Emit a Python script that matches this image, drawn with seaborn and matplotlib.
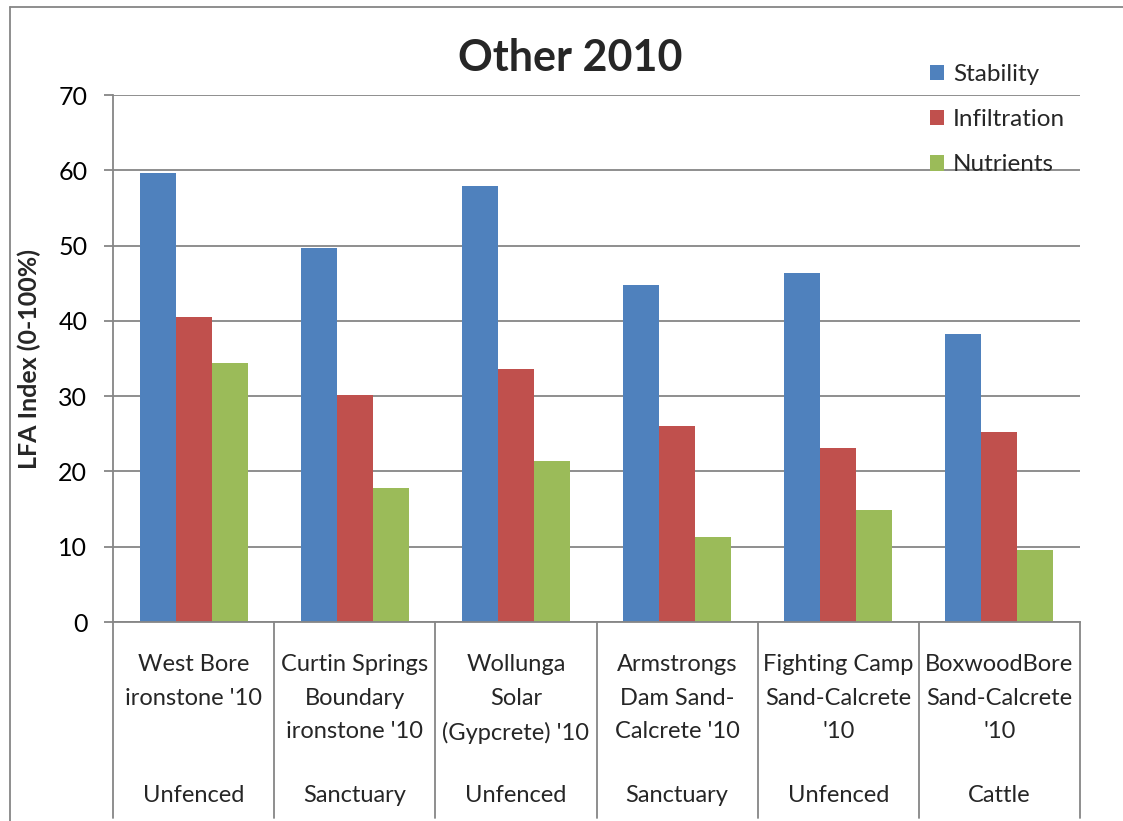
import matplotlib
matplotlib.use("Agg")
import matplotlib.pyplot as plt
import seaborn as sns
import pandas as pd
from matplotlib.lines import Line2D
from matplotlib.patches import Patch

# Site names (first category level) and management (second level)
sites = [
    "West Bore\nironstone '10",
    "Curtin Springs\nBoundary\nironstone '10",
    "Wollunga\nSolar\n(Gypcrete) '10",
    "Armstrongs\nDam Sand-\nCalcrete '10",
    "Fighting Camp\nSand-Calcrete\n'10",
    "BoxwoodBore\nSand-Calcrete\n'10",
]
management = ["Unfenced", "Sanctuary", "Unfenced", "Sanctuary", "Unfenced", "Cattle"]

stability = [59.6, 49.7, 57.9, 44.8, 46.4, 38.3]
infiltration = [40.5, 30.2, 33.6, 26.1, 23.1, 25.2]
nutrients = [34.4, 17.8, 21.4, 11.3, 14.9, 9.6]

series_names = ["Stability", "Infiltration", "Nutrients"]
series_colors = ["#4F81BD", "#C0504D", "#9BBB59"]

yticks = [0, 10, 20, 30, 40, 50, 60, 70]

df = pd.DataFrame({
    "site": sites * 3,
    "index": stability + infiltration + nutrients,
    "indicator": [n for n in series_names for _ in sites],
})

sns.set_theme(style="white")
plt.rcParams["font.family"] = ["Lato", "DejaVu Sans"]

W, H = 1123, 821
fig = plt.figure(figsize=(W / 100, H / 100), dpi=100)
# plot area in pixel coordinates
px_l, px_r, px_t, px_b = 113, 1080, 95, 622
ax = fig.add_axes([px_l / W, 1 - px_b / H, (px_r - px_l) / W, (px_b - px_t) / H])

sns.barplot(data=df, x="site", y="index", hue="indicator",
            hue_order=series_names, palette=series_colors,
            order=sites, width=0.67, gap=0, saturation=1,
            errorbar=None, ax=ax, linewidth=0, legend=False)

grid_c = "#868686"
txt_fs = 17
ax.set_ylim(0, 70)
ax.set_xlim(-0.5, len(sites) - 0.5)
ax.set_yticks(yticks)
ax.set_yticklabels([str(v) for v in yticks], fontsize=18, color="black")
ax.yaxis.grid(True, color=grid_c, linewidth=1.3)
ax.set_axisbelow(True)
ax.tick_params(axis="y", direction="out", length=6.5, width=1.3, color=grid_c,
               left=True, pad=12)
ax.set_xticks([])
ax.set_xlabel("")
ax.set_ylabel("LFA Index (0-100%)", fontsize=18, fontweight="bold", labelpad=12)
for side in ["top", "right"]:
    ax.spines[side].set_visible(False)
ax.spines["left"].set_color(grid_c)
ax.spines["left"].set_linewidth(1.3)
ax.spines["bottom"].set_color(grid_c)
ax.spines["bottom"].set_linewidth(1.3)

# multi-level category axis below the plot area
ax_h = px_b - px_t
def ay(py):
    return (px_b - py) / ax_h

trans = ax.get_xaxis_transform()
for xb in [i - 0.5 for i in range(len(sites) + 1)]:
    ax.add_line(Line2D([xb, xb], [0, ay(818)], transform=trans, color=grid_c,
                       linewidth=1.3, clip_on=False))
for i, (s, m) in enumerate(zip(sites, management)):
    ax.text(i, ay(654), s, transform=trans, ha="center", va="top",
            fontsize=txt_fs, linespacing=1.75)
    ax.text(i, ay(795), m, transform=trans, ha="center", va="center",
            fontsize=txt_fs)

fig.text(570 / W, 1 - 58 / H, "Other 2010", ha="center", va="center",
         fontsize=31, fontweight="bold")

handles = [Patch(facecolor=c, edgecolor="none", label=n)
           for n, c in zip(series_names, series_colors)]
fig.legend(handles=handles, loc="upper left", bbox_to_anchor=(908 / W, 1 - 42 / H),
           frameon=False, fontsize=17.5, handlelength=0.6, handleheight=0.6,
           handletextpad=0.35, labelspacing=1.0)

# chart border
fig.add_artist(Line2D([10 / W, 1], [1 - 7 / H, 1 - 7 / H], color=grid_c, linewidth=1.3))
fig.add_artist(Line2D([10 / W, 10 / W], [0, 1 - 7 / H], color=grid_c, linewidth=1.3))

fig.savefig("out.png", dpi=100)
